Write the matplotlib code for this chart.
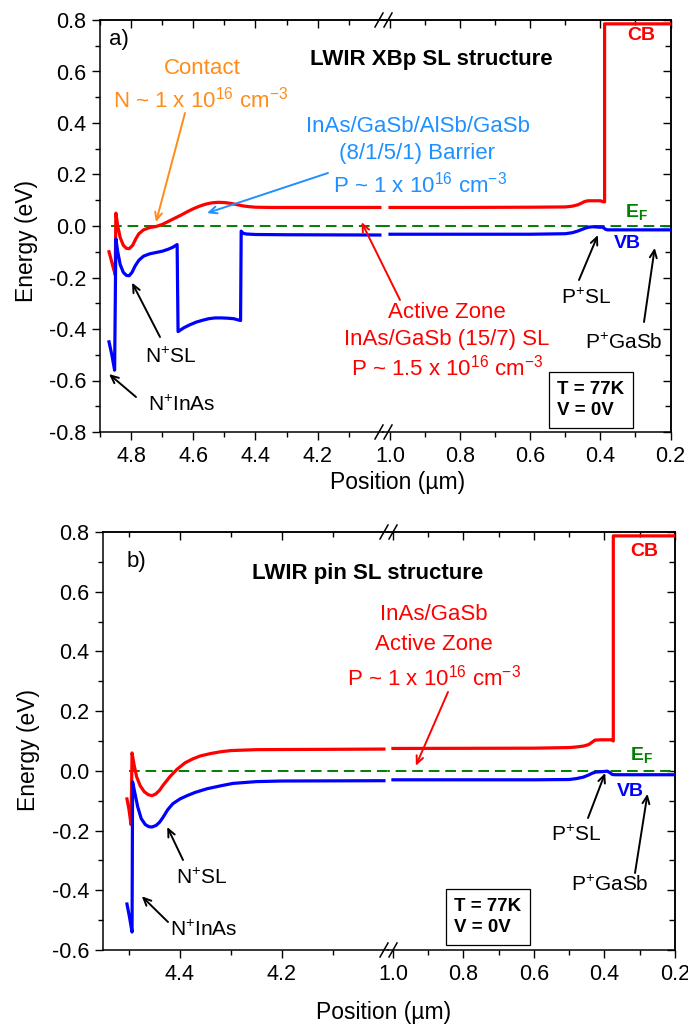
import matplotlib
matplotlib.use('Agg')
import matplotlib.pyplot as plt
from matplotlib.ticker import MultipleLocator, FixedLocator
from matplotlib.lines import Line2D

plt.rcParams['font.family'] = 'Liberation Sans'
plt.rcParams['mathtext.fontset'] = 'custom'
plt.rcParams['mathtext.rm'] = 'Liberation Sans'
plt.rcParams['mathtext.it'] = 'Liberation Sans:italic'
plt.rcParams['mathtext.bf'] = 'Liberation Sans:bold'

# ---- panel a: XBp structure (position in um, energy in eV) ----
a_cb_left_x = [4.871, 4.860, 4.851, 4.849, 4.843, 4.835, 4.825, 4.815, 4.806, 4.795, 4.785,
               4.775, 4.76, 4.74, 4.72, 4.70, 4.68, 4.66, 4.64, 4.62, 4.60, 4.58, 4.56, 4.54,
               4.52, 4.50, 4.48, 4.46, 4.44, 4.42, 4.40, 4.35, 4.2, 4.0]
a_cb_left_e = [-0.10, -0.15, -0.19, 0.05, 0.0, -0.045, -0.075, -0.087, -0.088, -0.075, -0.05,
               -0.03, -0.015, -0.006, -0.002, 0.006, 0.018, 0.03, 0.042, 0.055, 0.067, 0.077,
               0.085, 0.09, 0.092, 0.091, 0.088, 0.083, 0.078, 0.075, 0.073, 0.072, 0.072, 0.072]
a_cb_right_x = [1.0, 0.8, 0.6, 0.5, 0.48, 0.465, 0.455, 0.445, 0.435, 0.42, 0.40, 0.392,
                0.388, 0.388, 0.2]
a_cb_right_e = [0.072, 0.072, 0.073, 0.074, 0.077, 0.082, 0.088, 0.095, 0.098, 0.098, 0.098,
                0.094, 0.094, 0.785, 0.785]

a_vb_left_x = [4.871, 4.862, 4.853, 4.849, 4.843, 4.835, 4.825, 4.815, 4.806, 4.797, 4.787,
               4.775, 4.76, 4.74, 4.72, 4.70, 4.68, 4.665, 4.652, 4.649, 4.63, 4.61, 4.59,
               4.57, 4.55, 4.53, 4.51, 4.49, 4.47, 4.455, 4.448, 4.446, 4.44, 4.43, 4.40,
               4.3, 4.0]
a_vb_left_e = [-0.45, -0.50, -0.56, -0.05, -0.10, -0.15, -0.18, -0.192, -0.193, -0.18, -0.155,
               -0.133, -0.117, -0.108, -0.103, -0.098, -0.09, -0.082, -0.072, -0.41, -0.395,
               -0.383, -0.373, -0.366, -0.36, -0.357, -0.357, -0.358, -0.36, -0.365, -0.367,
               -0.02, -0.028, -0.031, -0.033, -0.034, -0.035]
a_vb_right_x = [1.0, 0.6, 0.5, 0.48, 0.465, 0.45, 0.44, 0.43, 0.42, 0.41, 0.40, 0.395, 0.39,
                0.385, 0.38, 0.2]
a_vb_right_e = [-0.032, -0.032, -0.03, -0.026, -0.02, -0.012, -0.007, -0.004, -0.003, -0.004,
                -0.005, -0.004, -0.008, -0.013, -0.015, -0.015]

a_ef_x = [4.865, 4.0, 1.0, 0.2]
a_ef_e = [0.0, 0.0, 0.0, 0.0]

# ---- panel b: pin structure ----
b_cb_left_x = [4.504, 4.500, 4.496, 4.494, 4.490, 4.485, 4.478, 4.47, 4.462, 4.455, 4.448,
               4.44, 4.433, 4.42, 4.406, 4.39, 4.375, 4.36, 4.34, 4.32, 4.30, 4.25, 4.0]
b_cb_left_e = [-0.094, -0.13, -0.18, 0.06, 0.02, -0.02, -0.05, -0.07, -0.08, -0.083, -0.078,
               -0.065, -0.048, -0.02, 0.005, 0.027, 0.04, 0.05, 0.058, 0.064, 0.068, 0.071,
               0.073]
b_cb_right_x = [1.0, 0.6, 0.5, 0.48, 0.46, 0.445, 0.435, 0.427, 0.41, 0.38, 0.375, 0.375, 0.2]
b_cb_right_e = [0.075, 0.076, 0.078, 0.08, 0.083, 0.088, 0.096, 0.103, 0.104, 0.104, 0.100,
                0.787, 0.787]

b_vb_left_x = [4.504, 4.499, 4.494, 4.493, 4.489, 4.483, 4.476, 4.468, 4.461, 4.455, 4.447,
               4.44, 4.433, 4.424, 4.414, 4.40, 4.386, 4.37, 4.347, 4.32, 4.296, 4.25, 4.2, 4.0]
b_vb_left_e = [-0.446, -0.49, -0.54, -0.037, -0.07, -0.12, -0.16, -0.18, -0.187, -0.188,
               -0.183, -0.172, -0.155, -0.13, -0.11, -0.094, -0.083, -0.072, -0.06, -0.05,
               -0.042, -0.036, -0.034, -0.033]
b_vb_right_x = [1.0, 0.6, 0.5, 0.48, 0.46, 0.445, 0.435, 0.425, 0.41, 0.40, 0.392, 0.385,
                0.378, 0.37, 0.2]
b_vb_right_e = [-0.03, -0.03, -0.029, -0.026, -0.021, -0.014, -0.008, -0.004, -0.003, -0.002,
                -0.001, -0.006, -0.012, -0.013, -0.013]

b_ef_x = [4.50, 4.0, 1.0, 0.2]
b_ef_e = [0.0, 0.0, 0.0, 0.0]

# tick positions
a_left_major = [4.8, 4.6, 4.4, 4.2]
a_left_minor = [4.9, 4.7, 4.5, 4.3, 4.1]
b_left_major = [4.4, 4.2]
b_left_minor = [4.5, 4.3, 4.1]
right_major = [1.0, 0.8, 0.6, 0.4, 0.2]
right_minor = [0.9, 0.7, 0.5, 0.3]

W, H = 688, 1027
fig = plt.figure(figsize=(W / 100, H / 100), dpi=100)


def fx(x):
    return x / W


def fy(y):
    return 1 - y / H


def fmt(v, p):
    return f'{v:.1f}'


def make_panel(x0, xj, x1, ytop, ybot, xl_left, xl_right, ylim, lmaj, lmin):
    axL = fig.add_axes([fx(x0), fy(ybot), (xj - x0) / W, (ybot - ytop) / H])
    axR = fig.add_axes([fx(xj), fy(ybot), (x1 - xj) / W, (ybot - ytop) / H])
    for ax, xl, mj, mn in ((axL, xl_left, lmaj, lmin), (axR, xl_right, right_major, right_minor)):
        ax.patch.set_visible(False)
        ax.set_xlim(xl)
        ax.set_ylim(ylim)
        ax.xaxis.set_major_locator(FixedLocator(mj))
        ax.xaxis.set_minor_locator(FixedLocator(mn))
        ax.yaxis.set_major_locator(MultipleLocator(0.2))
        ax.yaxis.set_minor_locator(MultipleLocator(0.1))
        ax.xaxis.set_major_formatter(plt.FuncFormatter(fmt))
        ax.yaxis.set_major_formatter(plt.FuncFormatter(fmt))
        ax.tick_params(which='both', direction='out', labelsize=15.5, width=1, pad=4)
        ax.tick_params(which='major', length=6)
        ax.tick_params(which='minor', length=3.5)
        for s in ax.spines.values():
            s.set_linewidth(1.1)
        top = ax.secondary_xaxis('top')
        top.xaxis.set_major_locator(FixedLocator(mj))
        top.xaxis.set_minor_locator(FixedLocator(mn))
        top.tick_params(which='both', direction='in', labeltop=False, width=1)
        top.tick_params(which='major', length=6)
        top.tick_params(which='minor', length=3.5)
        top.spines['top'].set_linewidth(1.1)
    axL.spines['right'].set_visible(False)
    axR.spines['left'].set_visible(False)
    axR.tick_params(axis='y', which='both', left=False, labelleft=False)
    rgt = axR.secondary_yaxis('right')
    rgt.yaxis.set_major_locator(MultipleLocator(0.2))
    rgt.yaxis.set_minor_locator(MultipleLocator(0.1))
    rgt.tick_params(which='both', direction='in', labelright=False, width=1)
    rgt.tick_params(which='major', length=6)
    rgt.tick_params(which='minor', length=4)
    rgt.spines['right'].set_linewidth(1.1)
    # break marks
    for yy in (ytop, ybot):
        for c in (xj - 4, xj + 5):
            fig.add_artist(Line2D([fx(c - 4), fx(c + 4)], [fy(yy + 7), fy(yy - 7)],
                                  color='black', lw=1.1, transform=fig.transFigure))
    return axL, axR


def draw_bands(axL, axR, cbl, cbr, vbl, vbr, ef):
    for ax in (axL, axR):
        ax.plot(ef[0], ef[1], color='#008000', lw=1.4, ls=(0, (5.5, 3)), zorder=2)
    axL.plot(cbl[0], cbl[1], color='#ff0000', lw=2.3, zorder=3)
    axR.plot(cbr[0], cbr[1], color='#ff0000', lw=2.3, zorder=3)
    axL.plot(vbl[0], vbl[1], color='#0000ff', lw=2.3, zorder=3)
    axR.plot(vbr[0], vbr[1], color='#0000ff', lw=2.3, zorder=3)


def txt(x, y, s, **kw):
    kw.setdefault('ha', 'center')
    kw.setdefault('va', 'center')
    kw.setdefault('fontsize', 16)
    fig.text(fx(x), fy(y), s, **kw)


def arrow(ax, tip, tail, color='black'):
    ax.annotate('', xy=tip, xycoords='data', xytext=(fx(tail[0]), fy(tail[1])),
                textcoords='figure fraction', annotation_clip=False, zorder=10,
                arrowprops=dict(arrowstyle='->,head_length=0.55,head_width=0.25',
                                color=color, lw=1.4, shrinkA=0, shrinkB=0))


exp16 = r' x 10$^{16}$ cm$^{-3}$'

# ---------------- panel a ----------------
aL, aR = make_panel(100, 383, 670.5, 20, 432, (4.9, 3.99), (1.02, 0.2), (-0.8, 0.8),
                    a_left_major, a_left_minor)
draw_bands(aL, aR, (a_cb_left_x, a_cb_left_e), (a_cb_right_x, a_cb_right_e),
           (a_vb_left_x, a_vb_left_e), (a_vb_right_x, a_vb_right_e), (a_ef_x, a_ef_e))

txt(119, 40, 'a)')
txt(431, 60, 'LWIR XBp SL structure', fontweight='bold')
orange = '#ff8c1a'
txt(202, 68, 'Contact', color=orange)
txt(201, 100, 'N ~ 1' + exp16, color=orange)
arrow(aL, (4.72, 0.015), (185, 113), orange)
lblue = '#1e90ff'
txt(418, 127, 'InAs/GaSb/AlSb/GaSb', color=lblue)
txt(417, 154, '(8/1/5/1) Barrier', color=lblue)
txt(420, 185, 'P ~ 1' + exp16, color=lblue)
arrow(aL, (4.556, 0.05), (328, 173), lblue)
txt(447, 312, 'Active Zone', color='#ff0000')
txt(447, 340, 'InAs/GaSb (15/7) SL', color='#ff0000')
txt(447, 368, 'P ~ 1.5' + exp16, color='#ff0000')
arrow(aL, (4.059, 0.015), (400, 300), '#ff0000')
txt(171, 357, r'N$^{+}$SL', fontsize=15)
arrow(aL, (4.797, -0.22), (160, 337))
txt(182, 405, r'N$^{+}$InAs', fontsize=15)
arrow(aL, (4.871, -0.575), (136, 397))
txt(586, 298, r'P$^{+}$SL', fontsize=15)
arrow(aR, (0.407, -0.035), (579, 280))
txt(624, 343, r'P$^{+}$GaSb', fontsize=15)
arrow(aR, (0.245, -0.085), (644, 322))
txt(641, 35, 'CB', color='#ff0000', fontweight='bold', fontsize=14)
txt(636, 212, r'$\mathbf{E}_\mathbf{F}$', color='#008000', fontsize=14)
txt(627, 244, 'VB', color='#0000ff', fontweight='bold', fontsize=14)
txt(557, 400, 'T = 77K\nV = 0V', ha='left', fontweight='bold', fontsize=13.5,
    linespacing=1.35,
    bbox=dict(boxstyle='square,pad=0.45', fc='white', ec='black', lw=0.9))
txt(398, 483, 'Position (µm)', fontsize=16.5)
txt(27, 241, 'Energy (eV)', rotation=90, fontsize=16.5)

# ---------------- panel b ----------------
bL, bR = make_panel(103, 388, 675, 532, 950, (4.551, 3.992), (1.014, 0.2), (-0.6, 0.8),
                    b_left_major, b_left_minor)
draw_bands(bL, bR, (b_cb_left_x, b_cb_left_e), (b_cb_right_x, b_cb_right_e),
           (b_vb_left_x, b_vb_left_e), (b_vb_right_x, b_vb_right_e), (b_ef_x, b_ef_e))

txt(136, 561, 'b)')
txt(368, 573, 'LWIR pin SL structure', fontweight='bold')
txt(434, 615, 'InAs/GaSb', color='#ff0000')
txt(434, 645, 'Active Zone', color='#ff0000')
txt(434, 678, 'P ~ 1' + exp16, color='#ff0000')
arrow(bR, (0.935, 0.017), (448, 692), '#ff0000')
txt(644, 552, 'CB', color='#ff0000', fontweight='bold', fontsize=14)
txt(641, 755, r'$\mathbf{E}_\mathbf{F}$', color='#008000', fontsize=14)
txt(630, 791, 'VB', color='#0000ff', fontweight='bold', fontsize=14)
txt(576, 835, r'P$^{+}$SL', fontsize=15)
arrow(bR, (0.398, -0.007), (588, 818))
txt(610, 885, r'P$^{+}$GaSb', fontsize=15)
arrow(bR, (0.278, -0.077), (635, 873))
txt(202, 878, r'N$^{+}$SL', fontsize=15)
arrow(bL, (4.425, -0.188), (183, 860))
txt(204, 930, r'N$^{+}$InAs', fontsize=15)
arrow(bL, (4.475, -0.42), (168, 922))
txt(454, 917, 'T = 77K\nV = 0V', ha='left', fontweight='bold', fontsize=13.5,
    linespacing=1.35,
    bbox=dict(boxstyle='square,pad=0.45', fc='white', ec='black', lw=0.9))
txt(384, 1013, 'Position (µm)', fontsize=16.5)
txt(28, 750, 'Energy (eV)', rotation=90, fontsize=16.5)

fig.savefig('out.png', dpi=100)
